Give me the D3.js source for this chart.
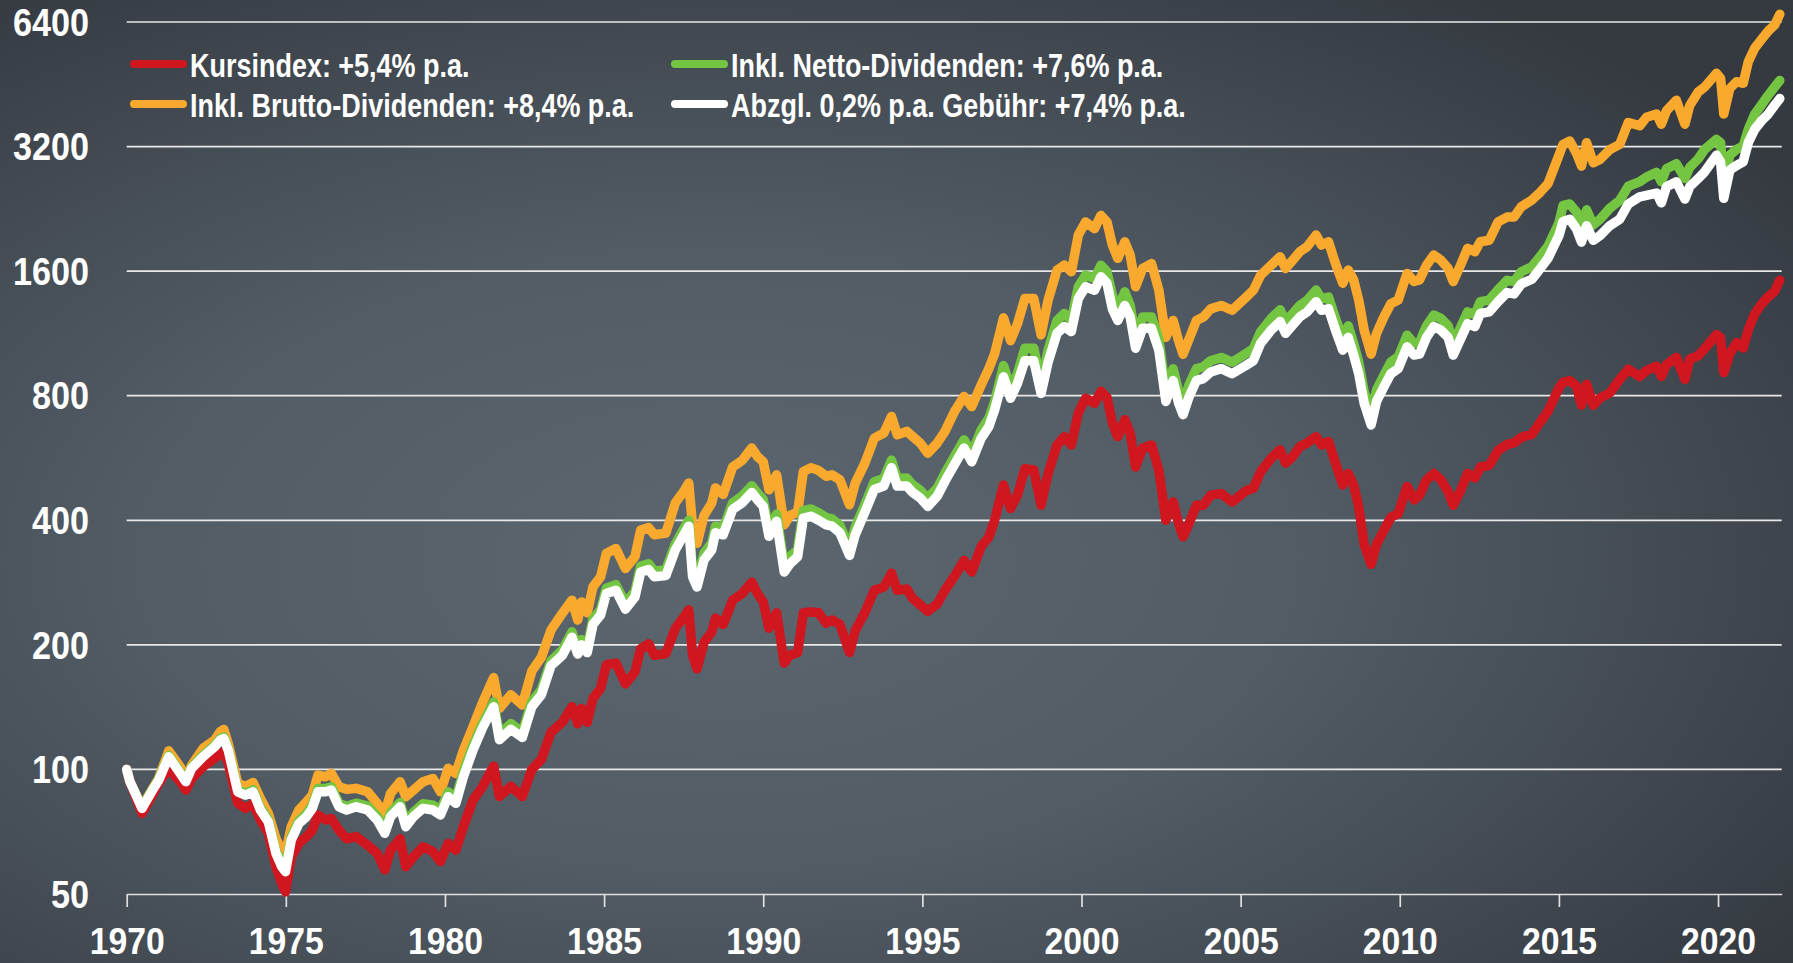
<!DOCTYPE html>
<html>
<head>
<meta charset="utf-8">
<script src="https://cdn.jsdelivr.net/npm/d3@7"></script>
<style>
html, body { margin: 0; padding: 0; overflow: hidden; background: #41484f; }
</style>
</head>
<body>
<script>

//Dates as decimal years
var dates = [
    1970.0, 1970.1, 1970.48, 1970.78, 1971.0, 1971.32, 1971.68, 1971.86, 1972.04, 1972.4,
    1972.76, 1972.94, 1973.05, 1973.19, 1973.49, 1973.73, 1973.97, 1974.2, 1974.45, 1974.69,
    1974.87, 1974.99, 1975.17, 1975.41, 1975.65, 1975.83, 1976.01, 1976.25, 1976.43, 1976.67,
    1976.91, 1977.21, 1977.57, 1977.87, 1978.11, 1978.29, 1978.59, 1978.77, 1979.01, 1979.31,
    1979.62, 1979.86, 1980.1, 1980.34, 1980.58, 1980.88,
    1981.18, 1981.53, 1981.71, 1982.07, 1982.43, 1982.73, 1983.03, 1983.33, 1983.69, 1983.99,
    1984.17, 1984.29, 1984.47, 1984.65, 1984.89, 1985.07, 1985.37, 1985.67, 1985.97, 1986.15,
    1986.4, 1986.58, 1986.94, 1987.24, 1987.48, 1987.66, 1987.78, 1987.92, 1988.14, 1988.38,
    1988.5, 1988.74, 1989.04, 1989.34, 1989.64, 1989.82, 1990.0, 1990.18, 1990.42, 1990.66,
    1990.84, 1991.08, 1991.26, 1991.5, 1991.74, 1991.98, 1992.16, 1992.41, 1992.71, 1992.89,
    1993.19, 1993.49, 1993.79, 1994.03, 1994.21, 1994.51, 1994.69, 1994.93, 1995.17, 1995.47,
    1995.71, 1996.01, 1996.31, 1996.55, 1996.85, 1997.09, 1997.27,
    1997.55, 1997.77, 1997.99, 1998.22, 1998.5, 1998.73, 1998.95, 1999.23, 1999.46, 1999.68,
    1999.9, 2000.13, 2000.41, 2000.61, 2000.8, 2000.97, 2001.14, 2001.36, 2001.53, 2001.7,
    2001.92, 2002.2, 2002.43, 2002.65, 2002.88, 2003.05, 2003.19, 2003.38, 2003.61, 2003.83,
    2004.06, 2004.39, 2004.73, 2005.18, 2005.4, 2005.63, 2005.96, 2006.24, 2006.41, 2006.64,
    2006.86, 2007.09, 2007.37, 2007.54, 2007.76, 2007.98, 2008.21, 2008.38, 2008.55, 2008.71,
    2008.88, 2009.1, 2009.27, 2009.5, 2009.72, 2009.95, 2010.23, 2010.45, 2010.62, 2010.84,
    2011.07, 2011.29, 2011.52, 2011.68, 2011.91, 2012.13, 2012.36, 2012.53, 2012.81, 2013.09,
    2013.37, 2013.59, 2013.82, 2014.15, 2014.38, 2014.66, 2015.0,
    2015.13, 2015.34, 2015.55, 2015.71, 2015.87, 2016.08, 2016.29, 2016.6, 2016.91, 2017.18,
    2017.54, 2017.75, 2018.07, 2018.22, 2018.38, 2018.69, 2018.96, 2019.11, 2019.38, 2019.58,
    2019.95, 2020.08, 2020.18, 2020.37, 2020.58, 2020.79, 2020.95, 2021.15, 2021.36, 2021.57,
    2021.78, 2021.94
];

//Kursindex (red)
var kursindex = [
    100, 93.5, 78.3, 85.9, 92.5, 100.6, 93.4, 89.1, 95, 101.5,
    106.3, 109.3, 110.3, 103.4, 82.8, 80.5, 82.8, 75.5, 70.1, 58.2,
    53, 50.6, 61.5, 66.3, 68.8, 71.3, 77.6, 75.5, 76.1, 71.3,
    68, 68.8, 65.6, 62.7, 57.2, 63.8, 68, 58.2, 61.5, 65,
    63.3, 59.9, 66.3, 63.8, 72.7, 84.3,
    90.8, 101.8, 86, 91, 86, 100, 105.8, 122.9, 130, 141.8,
    129, 140.5, 130, 148.5, 156.9, 179, 180.7, 161, 172, 195.6,
    201.1, 188.7, 190.4, 219.5, 232, 243, 188.7, 175, 203, 214.6,
    232, 224, 256.5, 266, 283.5, 266, 254, 219.5, 239, 180.7,
    188.7, 191.6, 239, 240, 239, 225.6, 229.7, 224, 191.6, 216.6,
    239, 271, 276, 298, 271, 273, 259, 250, 241, 251,
    271, 293, 320, 300, 346, 364, 400,
    487, 427, 460, 533, 529, 435, 519, 608, 637, 608,
    727, 789, 767, 820, 793, 687, 637, 700, 649, 538,
    597, 608, 529, 400, 443, 393, 365, 393, 435, 435,
    460, 464, 443, 472, 478, 524, 565, 592, 550, 570,
    603, 615, 637, 608, 620, 550, 487, 519, 487, 431,
    350, 313, 350, 378, 407, 415, 483, 448, 460, 501,
    519, 501, 469, 435, 472, 519, 506, 538, 543, 590,
    610, 615, 635, 645, 685, 735, 835,
    862, 870, 845, 759, 853, 759, 790, 812, 876, 927,
    890, 920, 943, 891, 951, 990, 876, 980, 1000, 1040,
    1124, 1104, 910, 1010, 1075, 1043, 1155, 1260, 1330, 1385,
    1430, 1520
];

//Inkl. Brutto-Dividenden (orange)
var brutto = [
    100, 93.5, 81.2, 89, 95, 110.9, 101.5, 95.1, 102.4, 112.4,
    117.7, 123.3, 124.9, 115.6, 92.5, 91, 93, 85.1, 78.3, 68.1,
    63.5, 63, 72.7, 79.8, 83.5, 86.7, 96.9, 96, 97.8, 90.8,
    89.5, 90, 88.3, 82.8, 78.3, 87.5, 93.4, 85.9, 89.1, 93.4,
    95.1, 88.3, 100.6, 97.8, 111.3, 126.7,
    145, 166.7, 140.5, 151.5, 143.2, 173, 186.6, 217, 238.5, 256.5,
    229.7, 254, 239, 276, 292, 332.5, 342, 306, 326.5, 379,
    384, 369, 372.5, 441, 467, 492, 387, 352, 411, 440,
    479, 462, 538, 558, 598, 570, 554, 474, 515, 390,
    411, 418, 525, 536, 528, 511, 515, 501, 436, 492,
    549, 632, 650, 713, 644, 656, 638, 615, 581, 615,
    656, 733, 797, 753, 850, 930, 1010,
    1234, 1087, 1194, 1374, 1374, 1122, 1362, 1609, 1654, 1594,
    1956, 2104, 2027, 2182, 2104, 1850, 1718, 1884, 1750, 1467,
    1624, 1669, 1439, 1107, 1216, 1087, 1008, 1097, 1216, 1240,
    1297, 1322, 1287, 1386, 1439, 1565, 1654, 1734, 1624, 1702,
    1783, 1833, 1956, 1850, 1884, 1669, 1496, 1609, 1524, 1362,
    1153, 1008, 1132, 1240, 1335, 1362, 1580, 1510, 1524, 1654,
    1750, 1702, 1624, 1510, 1654, 1816, 1783, 1884, 1900, 2104,
    2162, 2162, 2289, 2378, 2467, 2605, 3050,
    3239, 3300, 3086, 2870, 3269, 2924, 2978, 3145, 3239, 3658,
    3592, 3765, 3836, 3625, 3907, 4140, 3625, 4022, 4339, 4457,
    4810, 4680, 3836, 4420, 4590, 4550, 5130, 5530, 5800, 6080,
    6300, 6680
];

//Inkl. Netto-Dividenden (green)
var netto = [
    100, 93.5, 80.8, 88.6, 94.4, 108, 98.5, 94, 101.2, 108.2,
    114.3, 118.7, 119.8, 112.2, 89.2, 87.6, 89.3, 80.8, 75.6, 63.6,
    59.1, 57.5, 68.6, 75.2, 78.2, 81.9, 89.9, 89.9, 90.8, 82.8,
    81.4, 82.9, 81.5, 77.1, 71.7, 78.7, 83.2, 74.5, 78.8, 82.6,
    81.9, 79.7, 88.3, 85.2, 98.8, 114.6,
    129, 145.5, 121.5, 129, 123, 146, 156, 183, 194.5, 215,
    196, 206, 197.5, 231, 243, 274, 279.5, 252, 269.5, 310,
    314, 301.5, 304, 351, 379, 400, 303, 286, 333, 352,
    387, 383, 441, 458, 485, 465, 449, 381, 414, 312,
    327, 340, 422, 426, 417, 406, 403, 389, 343, 385,
    436, 496, 505, 559, 505, 506, 488, 473, 452, 479,
    520, 571, 626, 580, 662, 706, 775,
    946, 834, 905, 1042, 1042, 857, 1031, 1216, 1264, 1216,
    1467, 1565, 1536, 1654, 1594, 1400, 1297, 1426, 1322, 1107,
    1240, 1240, 1097, 826, 930, 820, 767, 850, 930, 940,
    972, 990, 964, 1013, 1040, 1143, 1230, 1290, 1210, 1265,
    1322, 1360, 1440, 1372, 1385, 1230, 1100, 1180, 1070, 965,
    818, 725, 826, 896, 965, 992, 1120, 1069, 1075, 1180,
    1253, 1230, 1180, 1069, 1170, 1275, 1255, 1350, 1362, 1445,
    1520, 1510, 1595, 1640, 1725, 1840, 2090,
    2307, 2325, 2224, 2060, 2250, 2070, 2135, 2270, 2370, 2566,
    2631, 2700, 2772, 2631, 2830, 2910, 2680, 2850, 2990, 3150,
    3330, 3270, 2620, 3050, 3150, 3210, 3520, 3830, 4030, 4250,
    4460, 4620
];

//Abzgl. 0,2% p.a. Gebuehr (white)
var abzglGebuehr = [
    100, 93.5, 80.5, 88.3, 94, 107.3, 97.8, 93.4, 100.6, 107.3,
    113.4, 117.7, 118.8, 111.3, 88.3, 86.7, 88.3, 79.8, 74.7, 62.7,
    58.2, 56.6, 67.5, 74, 76.9, 80.5, 88.3, 88.3, 89.1, 81.2,
    79.8, 81.2, 79.8, 75.5, 70.1, 76.9, 81.2, 72.7, 76.9, 80.5,
    79.8, 77.6, 85.9, 82.8, 96, 111.3,
    126, 141.8, 118, 125, 119.5, 141.8, 151.5, 178, 188.7, 208.7,
    190, 200, 191.6, 224, 236, 266, 271, 244, 261, 300,
    304, 292, 294, 339.5, 366, 387, 292, 276, 321, 339,
    373, 369, 425, 441, 467, 448, 432, 366, 398, 300,
    314, 326.5, 405, 409, 400, 390, 387, 373, 329, 369,
    418, 475, 484, 536, 484, 484, 467, 453, 432, 458,
    497, 546, 598, 554, 632, 674, 739,
    889, 789, 858, 972, 972, 810, 964, 1132, 1175, 1143,
    1374, 1467, 1439, 1551, 1496, 1297, 1216, 1322, 1240, 1042,
    1164, 1164, 1031, 775, 870, 768, 720, 795, 870, 880,
    913, 930, 904, 948, 972, 1071, 1153, 1209, 1132, 1186,
    1240, 1276, 1350, 1287, 1297, 1153, 1031, 1107, 1003, 904,
    768, 680, 775, 840, 904, 930, 1050, 1003, 1008, 1107,
    1175, 1153, 1107, 1003, 1097, 1194, 1175, 1264, 1276, 1350,
    1420, 1410, 1490, 1530, 1610, 1720, 1950,
    2110, 2135, 2024, 1880, 2060, 1900, 1950, 2060, 2135, 2325,
    2420, 2440, 2470, 2340, 2560, 2630, 2390, 2560, 2680, 2780,
    3050, 2940, 2400, 2810, 2880, 2940, 3270, 3520, 3690, 3830,
    4030, 4180
];

//Axis ticks
var yTicks = [50, 100, 200, 400, 800, 1600, 3200, 6400];
var xTicks = [1970, 1975, 1980, 1985, 1990, 1995, 2000, 2005, 2010, 2015, 2020];

//Legend labels
var legendLabels = [
    "Kursindex: +5,4% p.a.",
    "Inkl. Brutto-Dividenden: +8,4% p.a.",
    "Inkl. Netto-Dividenden: +7,6% p.a.",
    "Abzgl. 0,2% p.a. Gebühr: +7,4% p.a."
];

//Width and height
var w = 1793;
var h = 963;

var fontFamily = "'Liberation Sans', Arial, sans-serif";

//Create SVG element
var svg = d3.select("body")
            .append("svg")
            .attr("width", w)
            .attr("height", h);

//Background gradient
var grad = svg.append("defs")
    .append("radialGradient")
    .attr("id", "bg")
    .attr("cx", "40%")
    .attr("cy", "58%")
    .attr("r", "72%");
grad.append("stop").attr("offset", "0%").attr("stop-color", "#5b666f");
grad.append("stop").attr("offset", "45%").attr("stop-color", "#525c65");
grad.append("stop").attr("offset", "100%").attr("stop-color", "#353a41");

svg.append("rect")
    .attr("width", w)
    .attr("height", h)
    .attr("fill", "url(#bg)");

//Scales
var x = d3.scaleLinear()
            .domain([1970, 2022])
            .range([126.7, 1781.7]);

var y = d3.scaleLog()
            .base(2)
            .domain([50, 6400])
            .range([894, 22]);

//Gridlines (50 is drawn by the x axis)
svg.append("g")
    .selectAll("line")
    .data(yTicks.slice(1))
    .enter()
    .append("line")
    .attr("x1", x(1970))
    .attr("x2", x(2022))
    .attr("y1", function(d) { return y(d); })
    .attr("y2", function(d) { return y(d); })
    .style("stroke", "#e8e8e8")
    .style("stroke-width", 1.7);

//Y labels
svg.append("g")
    .selectAll("g")
    .data(yTicks)
    .enter()
    .append("g")
    .attr("transform", function(d) { return "translate(89," + y(d) + ") scale(0.9,1)"; })
    .append("text")
    .attr("dy", "0.36em")
    .attr("text-anchor", "end")
    .style("font-family", fontFamily)
    .style("font-weight", "bold")
    .style("font-size", "38px")
    .style("fill", "#ffffff")
    .text(function(d) { return d; });

//X axis
var xAxis = d3.axisBottom(x)
                .tickValues(xTicks)
                .tickSize(13)
                .tickSizeOuter(0)
                .tickFormat(d3.format("d"));

var xg = svg.append("g")
    .attr("transform", "translate(0," + y(50) + ")")
    .call(xAxis);

xg.select(".domain")
    .style("stroke", "#e0e0e0")
    .style("stroke-width", 1.7);

xg.selectAll(".tick line")
    .style("stroke", "#e0e0e0")
    .style("stroke-width", 1.7);

xg.selectAll(".tick text")
    .attr("y", 60)
    .attr("dy", 0)
    .attr("transform", "scale(0.9,1)")
    .style("font-family", fontFamily)
    .style("font-weight", "bold")
    .style("font-size", "37.5px")
    .style("fill", "#ffffff");

//Series, in drawing order
var series = [
    { values: brutto, color: "#f9a92d" },
    { values: netto, color: "#74c642" },
    { values: kursindex, color: "#d0161f" },
    { values: abzglGebuehr, color: "#ffffff" }
];

var line = d3.line()
    .x(function(d, i) { return x(dates[i]); })
    .y(function(d) { return y(d); });

svg.append("g")
    .selectAll("path")
    .data(series)
    .enter()
    .append("path")
    .attr("d", function(d) { return line(d.values); })
    .style("fill", "none")
    .style("stroke", function(d) { return d.color; })
    .style("stroke-width", 9.5)
    .style("stroke-linejoin", "round")
    .style("stroke-linecap", "round");

//Legend
var legendItems = [
    { label: legendLabels[0], color: "#d0161f", x: 134, y: 64 },
    { label: legendLabels[1], color: "#f9a92d", x: 134, y: 104 },
    { label: legendLabels[2], color: "#74c642", x: 675, y: 64 },
    { label: legendLabels[3], color: "#ffffff", x: 675, y: 104 }
];

var legend = svg.append("g")
    .selectAll("g")
    .data(legendItems)
    .enter()
    .append("g")
    .attr("transform", function(d) { return "translate(" + d.x + "," + d.y + ")"; });

legend.append("line")
    .attr("x1", 0)
    .attr("x2", 49)
    .attr("y1", 0)
    .attr("y2", 0)
    .style("stroke", function(d) { return d.color; })
    .style("stroke-width", 8)
    .style("stroke-linecap", "round");

legend.append("g")
    .attr("transform", "translate(56,12.5) scale(0.83,1)")
    .append("text")
    .style("font-family", fontFamily)
    .style("font-weight", "bold")
    .style("font-size", "32.5px")
    .style("fill", "#ffffff")
    .text(function(d) { return d.label; });

</script>
</body>
</html>
